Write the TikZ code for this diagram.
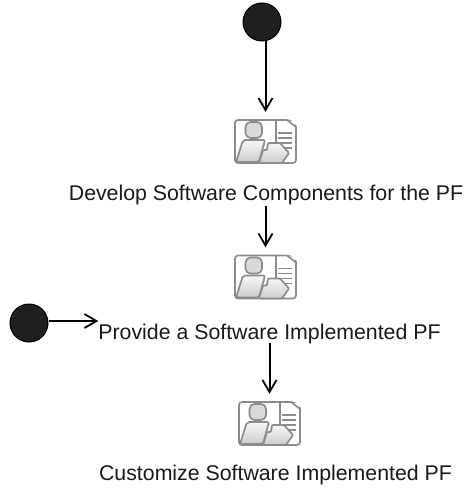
\documentclass[tikz,border=0pt]{standalone}
\usepackage{fontspec}
\setmainfont{Liberation Sans}
\usetikzlibrary{arrows.meta,calc}
\tikzset{
  startdot/.style={circle,draw=black,line width=1pt,fill=black!88,minimum size=38pt,inner sep=0pt},
  lbl/.style={inner sep=0pt,font=\fontsize{21.3pt}{25pt}\selectfont,text=black!90,anchor=base},
  iconbox/.style={minimum width=61pt,minimum height=43pt,inner sep=0pt},
  flow/.style={draw=black,line width=2pt,-{Straight Barb[length=12pt,width=14pt,line width=1.8pt]}},
  ic/.style={draw=black!45,line width=1.7pt,line join=round},
  icfill/.style={ic,top color=black!3,bottom color=black!20},
  pics/usericon/.style={code={
    \draw[ic,fill=white,rounded corners=3pt] (0,0) rectangle (61,43);
    \fill[white] (48,-1.5) -- (63,-1.5) -- (63,7) -- (56,0) -- cycle;
    \draw[ic] (52,0) -- (61,7);
    \draw[ic] (41,0) -- (41,23);
    \foreach \yy in {13,18,23,28} {\draw[ic] (43,\yy) -- (57,\yy);}
    \draw[ic,fill=black!15,rounded corners=5pt] (10.5,2) rectangle (27,18);
    \draw[icfill,rounded corners=2pt] (8,20) -- (30,20) -- (24,42) -- (1,42) -- cycle;
    \draw[icfill,rounded corners=1pt] (33,23) -- (45,23) -- (54,33) -- (47,43) -- (24,43) -- (28,30) -- (32,30) -- cycle;
  }}
}
\begin{document}
\begin{tikzpicture}[x=1pt,y=-1pt]
\useasboundingbox (0,0) rectangle (464,489);
\node[startdot] (start1) at (262,22) {};
\node[startdot] (start2) at (29,323) {};
\node[iconbox] (icon1) at (265.5,141.5) {};
\node[iconbox] (icon2) at (265.5,277) {};
\node[iconbox] (icon3) at (269.5,423.5) {};
\pic at (235,120) {usericon};
\pic at (235,255.5) {usericon};
\pic at (239,402) {usericon};
\node[lbl] (dev) at (266,200) {Develop Software Components for the PF};
\node[lbl] (prov) at (269.5,339) {Provide a Software Implemented PF};
\node[lbl] (cust) at (275.5,480) {Customize Software Implemented PF};
\draw[flow] (start1.south -| icon1.north) -- ($(icon1.north)+(0,-8)$);
\draw[flow] ($(dev.south -| icon2.north)+(0,1)$) -- ($(icon2.north)+(0,-8)$);
\draw[flow] ($(prov.south -| icon3.north)+(0,-1)$) -- ($(icon3.north)+(0,-8)$);
\coordinate (a) at ($(start2.east)+(0,-2)$);
\draw[flow] (a) -- (prov.west |- a);
\end{tikzpicture}
\end{document}
